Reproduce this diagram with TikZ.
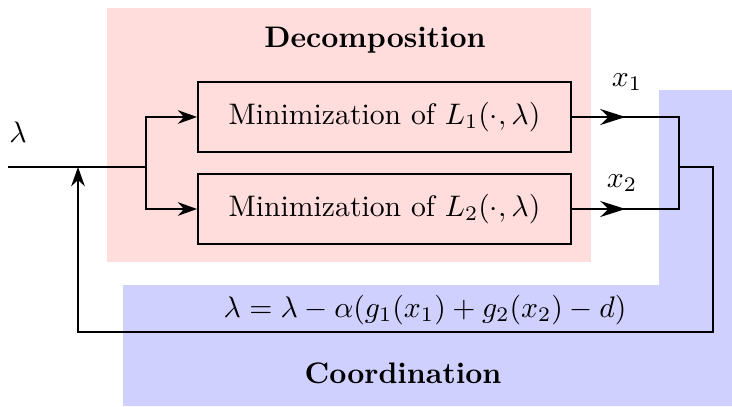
\documentclass[tikz,border=0pt]{standalone}
\usepackage{tikz}
\usepackage{xcolor}
\usetikzlibrary{arrows.meta,positioning,calc}
\definecolor{decomp}{RGB}{255,221,221}
\definecolor{coord}{RGB}{208,208,255}

\begin{document}
\begin{tikzpicture}[x=0.3367pt,y=-0.3367pt,semithick,
  box/.style={rectangle, draw, minimum width=125.6pt, minimum height=23.5pt, inner sep=0pt},
  >={Stealth[length=6.5pt,width=4.6pt]},
  outarrow/.style={-{Stealth[length=8.5pt,width=5.4pt]}, shorten <=1pt}]
\useasboundingbox (0,0) rectangle (732,406);

% shaded areas
\fill[coord] (123,406) -- (123,285) -- (659,285) -- (659,90) -- (732,90) -- (732,406) -- cycle;
\fill[decomp] (107,8) rectangle (591,262);

\node[font=\bfseries] (dtitle) at (375,40) {Decomposition};
\node[font=\bfseries] (ctitle) at (403,373) {Coordination};

\node[box] (min1) at (384.5,117) {Minimization of $L_1(\cdot,\lambda)$};
\node[box] (min2) at (384.5,209) {Minimization of $L_2(\cdot,\lambda)$};

\coordinate (in) at (8,167);
\coordinate (split) at (146,167);
\coordinate (fbin) at (78,167);
\coordinate (join) at (679,167);
\coordinate (out1) at (min1.east -| join);
\coordinate (out2) at (min2.east -| join);
\coordinate (fbr) at (713,167);
\coordinate (fbl) at (78,332);

\node (lam) at (18,132) {$\lambda$};
\node (x1) at (627,82) {$x_1$};
\node (x2) at (622,183) {$x_2$};
\node (upd) at (425,310) {$\lambda = \lambda - \alpha(g_1(x_1) + g_2(x_2) - d)$};

% input and split
\draw (in) -- (split);
\draw[->] (split) |- (min1.west);
\draw[->] (split) |- (min2.west);

% outputs
\draw (min1.east) -- (out1) -- (out2) -- (min2.east);
\draw[outarrow] (min1.east) -- ($(min1.east)!.5!(out1)$);
\draw[outarrow] (min2.east) -- ($(min2.east)!.5!(out2)$);

% feedback
\draw[->] (join) -- (fbr) |- (fbl) -- (fbin);
\end{tikzpicture}
\end{document}
